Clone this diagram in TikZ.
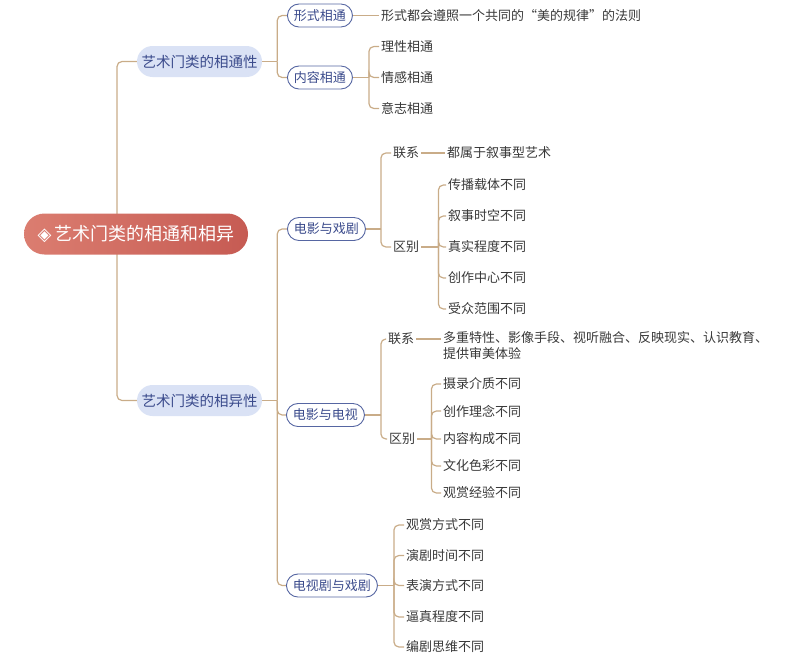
\documentclass[tikz,border=0pt]{standalone}
\usepackage{fontspec}
\setmainfont{Noto Sans CJK SC}
\newfontfamily\symfont{DejaVu Sans}
\usetikzlibrary{backgrounds,calc}
\definecolor{conn}{HTML}{C9AC88}
\definecolor{rootL}{HTML}{DB7D70}
\definecolor{rootR}{HTML}{C65B53}
\definecolor{lonefill}{HTML}{DAE2F5}
\definecolor{bluetext}{HTML}{3B4B8C}
\definecolor{blueline}{HTML}{5666A2}
\definecolor{leaftext}{HTML}{383838}
\tikzset{
  rootbox/.style={left color=rootL, right color=rootR, rounded corners=20.5pt,
    minimum width=224pt, minimum height=41pt, text=white, inner sep=0pt,
    font=\fontsize{18}{20}\selectfont},
  lonebox/.style={fill=lonefill, rounded corners=15.5pt, minimum width=125pt,
    minimum height=31pt, text=bluetext, inner sep=0pt,
    font=\fontsize{14.5}{16}\selectfont},
  ltwobox/.style={draw=blueline, line width=0.9pt, fill=white, rounded corners=11.5pt,
    minimum height=23pt, inner xsep=6.5pt, inner ysep=0pt, text=bluetext, anchor=west,
    font=\fontsize{13}{15}\selectfont},
  leaf/.style={anchor=west, inner sep=2pt, text=leaftext,
    font=\fontsize{13}{16}\selectfont},
  link/.style={draw=conn, line width=1.2pt, rounded corners=5pt},
}
\begin{document}
\begin{tikzpicture}[x=1pt,y=-1pt]
\useasboundingbox (0,0) rectangle (811,664);
% root and level 1
\node[rootbox] (root) at (136,234) {{\symfont ◈}\,艺术门类的相通和相异};
\node[lonebox] (ta) at (199.5,61.5) {艺术门类的相通性};
\node[lonebox] (tb) at (199.5,400.5) {艺术门类的相异性};
% level 2
\node[ltwobox] (xs) at (287,15.5) {形式相通};
\node[ltwobox] (nr) at (287,77.5) {内容相通};
\node[ltwobox] (dx) at (287,229) {电影与戏剧};
\node[ltwobox] (dd) at (286,415) {电影与电视};
\node[ltwobox] (sx) at (286,585.5) {电视剧与戏剧};
% leaves of xs / nr
\node[leaf] (xsa) at (379,15.5) {形式都会遵照一个共同的“美的规律”的法则};
\node[leaf] (nra) at (379,46.5) {理性相通};
\node[leaf] (nrb) at (379,77.5) {情感相通};
\node[leaf] (nrc) at (379,108.5) {意志相通};
% dx
\node[leaf] (dxl) at (391,153) {联系};
\node[leaf] (dxq) at (391,247) {区别};
\node[leaf] (dxla) at (445,153) {都属于叙事型艺术};
\node[leaf] (dxqa) at (446,185) {传播载体不同};
\node[leaf] (dxqb) at (446,216) {叙事时空不同};
\node[leaf] (dxqc) at (446,247) {真实程度不同};
\node[leaf] (dxqd) at (446,278) {创作中心不同};
\node[leaf] (dxqe) at (446,309) {受众范围不同};
% dd
\node[leaf] (ddl) at (386,339) {联系};
\node[leaf] (ddq) at (387,439) {区别};
\node[leaf, anchor=north west, align=left] (ddla) at (441,329.5)
  {多重特性、影像手段、视听融合、反映现实、认识教育、\\提供审美体验};
\node[leaf] (ddqa) at (441,384) {摄录介质不同};
\node[leaf] (ddqb) at (441,411) {创作理念不同};
\node[leaf] (ddqc) at (441,439) {内容构成不同};
\node[leaf] (ddqd) at (441,466) {文化色彩不同};
\node[leaf] (ddqe) at (441,493) {观赏经验不同};
% sx
\node[leaf] (sxa) at (404,525) {观赏方式不同};
\node[leaf] (sxb) at (404,555.5) {演剧时间不同};
\node[leaf] (sxc) at (404,585.5) {表演方式不同};
\node[leaf] (sxd) at (404,617) {逼真程度不同};
\node[leaf] (sxe) at (404,647) {编剧思维不同};

\begin{scope}[on background layer]
  % root spine
  \draw[link] ([xshift=-19pt]root.center) |- (ta.west);
  \draw[link] ([xshift=-19pt]root.center) |- (tb.west);
  % ta
  \draw[link] (ta.east) -- ++(15,0) coordinate (bta);
  \draw[link] (bta) |- (xs.west);
  \draw[link] (bta) |- (nr.west);
  \draw[link] (xs.east) -- (xsa.west);
  \draw[link] (nr.east) -- ++(16,0) coordinate (bnr);
  \foreach \c in {nra,nrb,nrc} \draw[link] (bnr) |- (\c.west);
  % tb
  \draw[link] (tb.east) -- ++(15,0) coordinate (btb);
  \foreach \c in {dx,dd,sx} \draw[link] (btb) |- (\c.west);
  % dx
  \draw[link] (dx.east) -- ++(15,0) coordinate (bdx);
  \draw[link] (bdx) |- (dxl.west);
  \draw[link] (bdx) |- (dxq.west);
  \draw[link] (dxl.east) -- (dxla.west);
  \draw[link] (dxq.east) -- ++(17,0) coordinate (bdxq);
  \foreach \c in {dxqa,dxqb,dxqc,dxqd,dxqe} \draw[link] (bdxq) |- (\c.west);
  % dd
  \draw[link] (dd.east) -- ++(16,0) coordinate (bdd);
  \draw[link] (bdd) |- (ddl.west);
  \draw[link] (bdd) |- (ddq.west);
  \draw[link] (ddl.east) -- ([yshift=-9.5pt]ddla.north west);
  \draw[link] (ddq.east) -- ++(14,0) coordinate (bddq);
  \foreach \c in {ddqa,ddqb,ddqc,ddqd,ddqe} \draw[link] (bddq) |- (\c.west);
  % sx
  \draw[link] (sx.east) -- ++(16,0) coordinate (bsx);
  \foreach \c in {sxa,sxb,sxc,sxd,sxe} \draw[link] (bsx) |- (\c.west);
\end{scope}
\end{tikzpicture}
\end{document}
